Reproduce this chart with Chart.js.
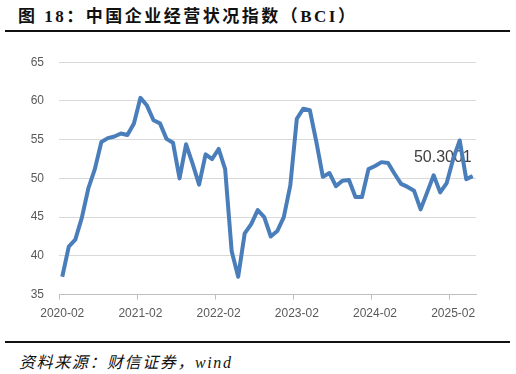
<!DOCTYPE html>
<html>
<head>
<meta charset="utf-8">
<script src="https://cdn.jsdelivr.net/npm/chart.js@4"></script>
<style>
  html, body { margin: 0; padding: 0; background: #fff; }
  body { width: 516px; height: 374px; position: relative; overflow: hidden; }
  .title {
    position: absolute; left: 18px; top: 2px;
    font: bold 17px "Liberation Serif", "Noto Sans CJK SC", serif;
    letter-spacing: 2.5px; color: #111; white-space: nowrap;
  }
  .rule { position: absolute; left: 5px; width: 505px; height: 2px; background: #111; }
  .source {
    position: absolute; left: 19px; top: 349px;
    font: italic 16px "Liberation Serif", "Noto Sans CJK SC", serif;
    letter-spacing: 1.6px; color: #111; white-space: nowrap;
  }
  .wrap { position: absolute; left: 0; top: 40px; width: 516px; height: 300px; }
</style>
</head>
<body>
<div class="title">图 18：中国企业经营状况指数（BCI）</div>
<div class="rule" style="top:30px"></div>
<div class="wrap"><canvas id="bci"></canvas></div>
<div class="rule" style="top:341px"></div>
<div class="source">资料来源：财信证券，wind</div>

<script>
// Monthly BCI, 2020-02 .. 2025-05.
const months = [];
for (let y = 2020; y <= 2025; y++) {
  for (let m = 1; m <= 12; m++) {
    const k = `${y}-${String(m).padStart(2, "0")}`;
    if (k >= "2020-02" && k <= "2025-05") months.push(k);
  }
}

const bci = [
  37.3, 41.2, 42.1, 44.9, 48.7, 51.2, 54.7, 55.2, 55.4, 55.8, 55.6,   // 2020-02 .. 2020-12
  57.1, 60.4, 59.4, 57.5, 57.1, 55.1, 54.6, 50.0, 54.4, 51.9, 49.2, 53.1, // 2021
  52.5, 53.8, 51.2, 40.6, 37.3, 42.9, 44.1, 45.9, 45.0, 42.5, 43.2, 45.0, // 2022
  49.1, 57.7, 59.0, 58.8, 54.7, 50.2, 50.7, 49.0, 49.7, 49.8, 47.6, 47.6, // 2023
  51.2, 51.6, 52.1, 52.0, 50.6, 49.3, 48.9, 48.4, 46.0, 48.2, 50.4, 48.2, // 2024
  49.4, 52.5, 54.9, 49.9, 50.3                                           // 2025-01 .. 05
];

const yTicks = [35, 40, 45, 50, 55, 60, 65];
const lastLabel = "50.3001";

const grey = "#595959";

// value label for the latest point, drawn under the line like in the source
const pointLabel = {
  id: "pointLabel",
  beforeDatasetsDraw(chart) {
    const p = chart.getDatasetMeta(0).data.at(-1);
    if (!p) return;
    const ctx = chart.ctx;
    ctx.save();
    ctx.font = '16px "Liberation Sans", sans-serif';
    ctx.fillStyle = "#404040";
    ctx.textAlign = "right";
    ctx.textBaseline = "alphabetic";
    ctx.fillText(lastLabel, p.x - 1, p.y - 14);
    ctx.restore();
  },
};

new Chart(document.getElementById("bci"), {
  type: "line",
  data: {
    labels: months,
    datasets: [{
      data: bci,
      borderColor: "#4a7ebb",
      borderWidth: 4,
      pointRadius: 0,
      tension: 0,
      borderJoinStyle: "round",
    }],
  },
  options: {
    responsive: true,
    maintainAspectRatio: false,
    animation: false,
    layout: { padding: { left: 0, right: 40, top: 19, bottom: 12 } },
    plugins: { legend: { display: false }, tooltip: { enabled: false } },
    scales: {
      x: {
        offset: true,
        border: { display: true, color: "#bfbfbf", width: 1 },
        grid: {
          offset: true,
          drawOnChartArea: false,
          drawTicks: true,
          tickLength: 5,
          color: (c) => (c.index % 12 === 0 ? "#bfbfbf" : "transparent"),
        },
        ticks: {
          autoSkip: false,
          maxRotation: 0,
          padding: 7,
          color: grey,
          font: { family: "Liberation Sans", size: 12 },
          callback: (v, i) => (i % 12 === 0 ? months[i] : ""),
        },
      },
      y: {
        min: 35,
        max: 65,
        afterFit: (s) => { s.width = 59; },
        afterBuildTicks: (s) => { s.ticks = yTicks.map((v) => ({ value: v })); },
        border: { display: false },
        grid: { color: "#d9d9d9", lineWidth: 1, drawTicks: false },
        ticks: {
          padding: 15,
          color: grey,
          font: { family: "Liberation Sans", size: 12 },
        },
      },
    },
  },
  plugins: [pointLabel],
});
</script>
</body>
</html>
